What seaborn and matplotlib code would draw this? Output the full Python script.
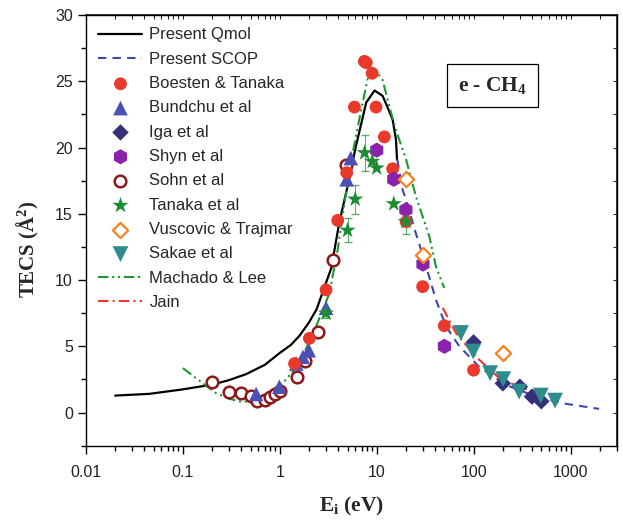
import matplotlib
matplotlib.use("Agg")
import matplotlib.pyplot as plt
import matplotlib.ticker as mticker
import numpy as np
import seaborn as sns

# curves (E in eV, TECS in A^2)
qmol_e = [0.02, 0.045, 0.1, 0.15, 0.2, 0.3, 0.45, 0.7, 1.0, 1.3, 1.6, 2.0, 2.4, 3.0, 3.4,
          4.1, 5.2, 6.1, 7.8, 9.5, 11.5, 13.0, 14.6, 15.8, 16.2]
qmol_s = [1.28, 1.41, 1.75, 1.96, 2.1, 2.45, 2.9, 3.6, 4.5, 5.1, 5.8, 6.8, 7.8, 9.8, 10.9,
          14.3, 17.6, 20.1, 23.4, 24.3, 23.9, 23.0, 22.1, 20.6, 19.1]
scop_e = [16.3, 18.5, 20.1, 25.4, 29.8, 40.9, 51.9, 71.2, 114, 215, 439, 894, 1968]
scop_s = [19.1, 16.8, 16.05, 13.5, 11.9, 8.5, 6.5, 5.0, 3.45, 2.09, 1.21, 0.66, 0.28]
machado_e = [0.1, 0.16, 0.22, 0.3, 0.39, 0.52, 0.62, 1.07, 1.6, 2.37, 3.25, 3.96, 5.22, 6.6,
             8.07, 9.46, 11.5, 13.5, 15.8, 20.1, 25.4, 34.9, 40.9, 49.8]
machado_s = [3.35, 2.22, 1.46, 1.05, 0.83, 0.83, 1.09, 2.2, 3.73, 6.5, 9.0, 12.3, 18.3, 22.1,
             25.2, 25.9, 25.1, 23.1, 21.3, 19.1, 16.3, 13.3, 11.0, 9.4]
jain_e = [48, 65.8, 106, 184, 319, 513]
jain_s = [7.9, 6.0, 4.2, 2.6, 1.84, 1.46]

# measurements
boesten_e = [1.42, 2.02, 3.0, 3.96, 4.9, 5.89, 7.46, 7.8, 8.97, 9.84, 12.0, 14.6, 20.1, 29.8, 49.8, 99.8]
boesten_s = [3.7, 5.6, 9.26, 14.5, 18.1, 23.05, 26.5, 26.4, 25.6, 23.05, 20.8, 18.4, 14.4, 9.5, 6.55, 3.2]
bundchu_e = [0.57, 0.99, 1.48, 1.73, 1.99, 3.0, 4.9, 5.4]
bundchu_s = [1.4, 1.95, 3.7, 4.2, 4.7, 7.9, 17.6, 19.2]
iga_e = [100, 200, 300, 400, 500]
iga_s = [5.3, 2.2, 1.95, 1.2, 0.85]
shyn_e = [10, 15, 20, 30, 50]
shyn_s = [19.8, 17.6, 15.3, 11.2, 5.0]
sohn_e = [0.2, 0.3, 0.4, 0.5, 0.58, 0.7, 0.8, 0.9, 1.0, 1.5, 1.8, 2.5, 3.5, 4.8]
sohn_s = [2.3, 1.55, 1.45, 1.25, 0.9, 0.95, 1.2, 1.4, 1.65, 2.7, 3.9, 6.1, 11.5, 18.7]
tanaka_e = [3.0, 5.0, 6.0, 7.5, 9.0, 10.0, 15.0, 20.0]
tanaka_s = [7.5, 13.75, 16.1, 19.6, 18.95, 18.45, 15.75, 14.4]
tanaka_err = [0.4, 0.9, 1.1, 1.35, 0.0, 0.0, 0.0, 0.95]
vus_e = [20, 30, 200]
vus_s = [17.6, 11.9, 4.5]
sakae_e = [74, 99, 148, 202, 295, 493, 692]
sakae_s = [6.0, 4.6, 2.97, 2.52, 1.58, 1.28, 0.9]

sns.set_theme(style="ticks")
plt.rcParams["font.family"] = ["Liberation Sans", "DejaVu Sans"]
plt.rcParams["mathtext.fontset"] = "custom"
plt.rcParams["mathtext.rm"] = "Liberation Serif:bold"
plt.rcParams["mathtext.it"] = "Liberation Serif:bold"
plt.rcParams["mathtext.bf"] = "Liberation Serif:bold"

fig = plt.figure(figsize=(6.23, 5.22), dpi=100)
ax = fig.add_axes([0.138, 0.1462, 0.852, 0.8251])
ax.set_xscale("log")

sns.lineplot(x=qmol_e, y=qmol_s, ax=ax, color="black", lw=1.6, label="Present Qmol")
sns.lineplot(x=scop_e, y=scop_s, ax=ax, color="#3c46b4", lw=1.5,
             linestyle=(0, (4, 3)), label="Present SCOP")
sns.lineplot(x=machado_e, y=machado_s, ax=ax, color="#1e9632", lw=1.5,
             linestyle=(0, (5, 1.8, 1, 1.8, 1, 1.8)), label="Machado & Lee")
sns.lineplot(x=jain_e, y=jain_s, ax=ax, color="#e8392a", lw=1.5,
             linestyle=(0, (5, 2, 1, 2)), label="Jain")

mask = np.array(tanaka_err) > 0
ax.errorbar(np.array(tanaka_e)[mask], np.array(tanaka_s)[mask], yerr=np.array(tanaka_err)[mask],
            fmt="none", ecolor="#1e8c32", elinewidth=0.8, capsize=3, alpha=0.7, zorder=3)

sns.scatterplot(x=sohn_e, y=sohn_s, ax=ax, marker="o", s=70, facecolor="white",
                edgecolor="#8b1a1a", linewidth=1.8, label="Sohn et al", zorder=4)
sns.scatterplot(x=bundchu_e, y=bundchu_s, ax=ax, marker="^", s=110, color="#4a50b4",
                edgecolor="none", label="Bundchu et al", zorder=4)
sns.scatterplot(x=boesten_e, y=boesten_s, ax=ax, marker="o", s=85, color="#e8392a",
                edgecolor="none", label="Boesten & Tanaka", zorder=5)
sns.scatterplot(x=iga_e, y=iga_s, ax=ax, marker="D", s=70, color="#35307a",
                edgecolor="none", label="Iga et al", zorder=5)
sns.scatterplot(x=shyn_e, y=shyn_s, ax=ax, marker="h", s=120, color="#8a22ad",
                edgecolor="none", label="Shyn et al", zorder=5)
sns.scatterplot(x=tanaka_e, y=tanaka_s, ax=ax, marker="*", s=150, color="#1e8c32",
                edgecolor="none", label="Tanaka et al", zorder=6)
sns.scatterplot(x=vus_e, y=vus_s, ax=ax, marker="D", s=60, facecolor="white",
                edgecolor="#f5821e", linewidth=1.6, label="Vuscovic & Trajmar", zorder=6)
sns.scatterplot(x=sakae_e, y=sakae_s, ax=ax, marker="v", s=130, color="#2e8c8c",
                edgecolor="none", label="Sakae et al", zorder=6)

ax.set_xlim(0.01, 3000)
ax.set_ylim(-2.5, 30)
ax.xaxis.set_major_locator(mticker.FixedLocator([0.01, 0.1, 1, 10, 100, 1000]))
ax.xaxis.set_major_formatter(mticker.FixedFormatter(["0.01", "0.1", "1", "10", "100", "1000"]))
ax.xaxis.set_minor_locator(mticker.LogLocator(base=10, subs=np.arange(2, 10), numticks=20))
ax.xaxis.set_minor_formatter(mticker.NullFormatter())
ax.yaxis.set_major_locator(mticker.MultipleLocator(5))
ax.yaxis.set_minor_locator(mticker.MultipleLocator(2.5))

for s in ax.spines.values():
    s.set_linewidth(1.0)
    s.set_color("black")
ax.tick_params(which="both", direction="out", colors="black", labelsize=11.5, width=1.0,
               bottom=True, left=True, top=False, right=False)
ax.tick_params(axis="both", labelcolor="#222222")
ax.tick_params(which="major", length=6)
ax.tick_params(which="minor", length=3.5)
ax.tick_params(axis="x", pad=8)
# inward ticks on the top and right edges
top = ax.secondary_xaxis("top")
top.set_xticks([0.01, 0.1, 1, 10, 100, 1000])
top.xaxis.set_minor_locator(mticker.LogLocator(base=10, subs=np.arange(2, 10), numticks=20))
top.tick_params(which="both", direction="in", length=3, width=0.8, labeltop=False)
top.xaxis.set_minor_formatter(mticker.NullFormatter())
right = ax.secondary_yaxis("right")
right.yaxis.set_major_locator(mticker.MultipleLocator(2.5))
right.tick_params(which="both", direction="in", length=3, width=0.8, labelright=False)

serif = {"family": "Liberation Serif", "weight": "bold"}
ax.set_xlabel(r"E$_{\mathregular{i}}$ (eV)", fontdict=serif, fontsize=15.5)
ax.set_ylabel(r"TECS (Å$^{2}$)", fontdict=serif, fontsize=15)
ax.xaxis.set_label_coords(0.5, -0.115)
ax.yaxis.set_label_coords(-0.084, 0.457)

ax.text(0.7655, 0.836, r"e - CH$_{4}$", transform=ax.transAxes, ha="center", va="center",
        fontdict=serif, fontsize=15.5,
        bbox=dict(boxstyle="square,pad=0.5", facecolor="white", edgecolor="black", linewidth=0.9))

order = ["Present Qmol", "Present SCOP", "Boesten & Tanaka", "Bundchu et al", "Iga et al",
         "Shyn et al", "Sohn et al", "Tanaka et al", "Vuscovic & Trajmar", "Sakae et al",
         "Machado & Lee", "Jain"]
handles, labels = ax.get_legend_handles_labels()
lookup = dict(zip(labels, handles))
ax.legend([lookup[k] for k in order], order, loc="upper left", frameon=False, fontsize=12,
          handlelength=2.64, handletextpad=0.42, labelspacing=0.56,
          borderaxespad=0.35, bbox_to_anchor=(0.0, 1.0))

fig.savefig("out.png", dpi=100)
